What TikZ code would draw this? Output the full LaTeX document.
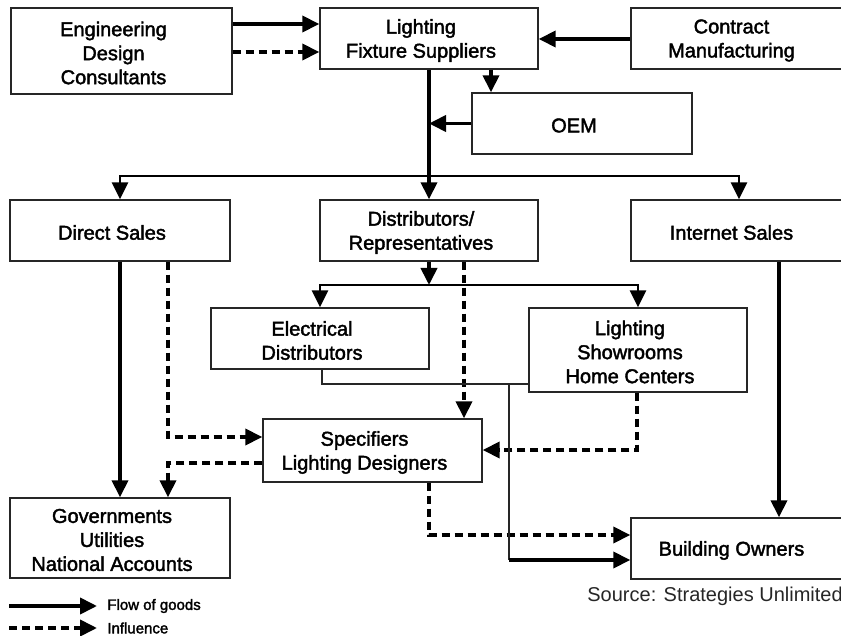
\documentclass[tikz,border=0pt]{standalone}
\usepackage{fontspec}
\setmainfont{Liberation Sans}
\newfontfamily\heavyfont{Liberation Sans}[FakeBold=2]
\usetikzlibrary{arrows.meta}
\newcommand\boxnode[6]{%
  \node[box, minimum width={(#4-#2)*0.5pt}, minimum height={(#5-#3)*0.5pt}] (#1) at ({(#2+#4)/2},{(#3+#5)/2}) {};
  \node[txt] (#1-t) at ([shift={(-8,2)}]#1.center) {#6};
}
\begin{document}
\begin{tikzpicture}[x=0.5pt,y=-0.5pt,
  box/.style={draw=black!85, line width=0.7pt, inner sep=0pt, fill=white},
  txt/.style={align=center, font=\heavyfont\fontsize{10pt}{12pt}\selectfont, inner sep=0pt},
  flow/.style={line width=1.9pt, -{Triangle[length=8.5pt,width=8pt]}},
  infl/.style={flow, dash pattern=on 4pt off 2.5pt},
  conn/.style={line width=0.7pt, black!85},
  legtxt/.style={anchor=west, font=\heavyfont\fontsize{7.5pt}{9pt}\selectfont, inner sep=0pt}]
\useasboundingbox (0,0) rectangle (841,636);

\boxnode{eng}{11}{8}{232}{94}{Engineering\\Design\\Consultants}
\boxnode{lfs}{320}{8}{538}{69}{Lighting\\Fixture Suppliers}
\boxnode{cm}{631}{8}{848}{69}{Contract\\Manufacturing}
\boxnode{oem}{472}{93}{692}{154}{OEM}
\boxnode{ds}{10}{200}{230}{261}{Direct Sales}
\boxnode{dr}{320}{200}{538}{261}{Distributors/\\Representatives}
\boxnode{is}{631}{200}{848}{261}{Internet Sales}
\boxnode{ed}{211}{308}{429}{369}{Electrical\\Distributors}
\boxnode{ls}{529}{308}{747}{392}{Lighting\\Showrooms\\Home Centers}
\boxnode{sp}{263}{419}{482}{482}{Specifiers\\Lighting Designers}
\boxnode{gov}{10}{498}{230}{578}{Governments\\Utilities\\National Accounts}
\boxnode{bo}{631}{518}{848}{579}{Building Owners}

% helper coordinates
\coordinate (y24) at (0,24);
\coordinate (y52) at (0,52);
\coordinate (y39) at (0,39);
\coordinate (x491) at (491,0);
\coordinate (y176) at (0,176);
\coordinate (x739) at (739,0);
\coordinate (y285) at (0,285);
\coordinate (x168) at (168,0);
\coordinate (y437) at (0,437);
\coordinate (y463) at (0,463);
\coordinate (x464) at (464,0);
\coordinate (x637) at (637,0);
\coordinate (y450) at (0,450);
\coordinate (x429) at (429,0);
\coordinate (y535) at (0,535);
\coordinate (x322) at (322,0);
\coordinate (y384) at (0,384);
\coordinate (x509) at (509,0);
\coordinate (y560) at (0,560);
\coordinate (x779) at (779,0);

% top
\draw[flow] (eng.east |- y24) -- (lfs.west |- y24);
\draw[infl] (eng.east |- y52) -- (lfs.west |- y52);
\draw[flow] (cm.west |- y39) -- (lfs.east |- y39);
\draw[flow] (lfs.south -| x491) -- (oem.north -| x491);
\draw[flow] (lfs.south) -- (dr.north);
\draw[flow] (oem.west) -- (oem.west -| lfs.south);
\draw[flow, line width=1.3pt] (lfs.south |- y176) -| (ds.north);
\draw[flow, line width=1.3pt] (lfs.south |- y176) -| (is.north -| x739);

% distributors
\draw[flow] (dr.south) -- (dr.south |- y285);
\draw[flow, line width=1.3pt] (dr.south |- y285) -| (ed.north);
\draw[flow, line width=1.3pt] (dr.south |- y285) -| (ls.north);

% direct sales
\draw[flow] (ds.south) -- (gov.north);
\draw[infl] (ds.south -| x168) |- (sp.west |- y437);
\draw[infl] (sp.west |- y463) -| (gov.north -| x168);
\draw[infl] (dr.south -| x464) -- (sp.north -| x464);
\draw[infl] (ls.south -| x637) |- (sp.east |- y450);
\draw[infl] (sp.south -| x429) |- (bo.west |- y535);

% retail to building owners
\draw[conn] (ed.south -| x322) |- (ls.west |- y384);
\draw[conn] (x509 |- y384) -- (x509 |- y560);
\draw[flow] (x509 |- y560) -- (bo.west |- y560);
\draw[flow] (is.south -| x779) -- (bo.north -| x779);

% source
\node[anchor=west, font=\fontsize{10pt}{12pt}\selectfont, inner sep=0pt, text=black!85] (src) at (587,596) {Source: Strategies Unlimited};

% legend
\coordinate (la1) at (9,606);
\coordinate (la2) at (97,606);
\coordinate (lb1) at (9,628);
\coordinate (lb2) at (97,628);
\draw[flow] (la1) -- (la2);
\draw[infl] (lb1) -- (lb2);
\node[legtxt] (lt1) at (107,606) {Flow of goods};
\node[legtxt] (lt2) at (107,628) {Influence};
\end{tikzpicture}
\end{document}
